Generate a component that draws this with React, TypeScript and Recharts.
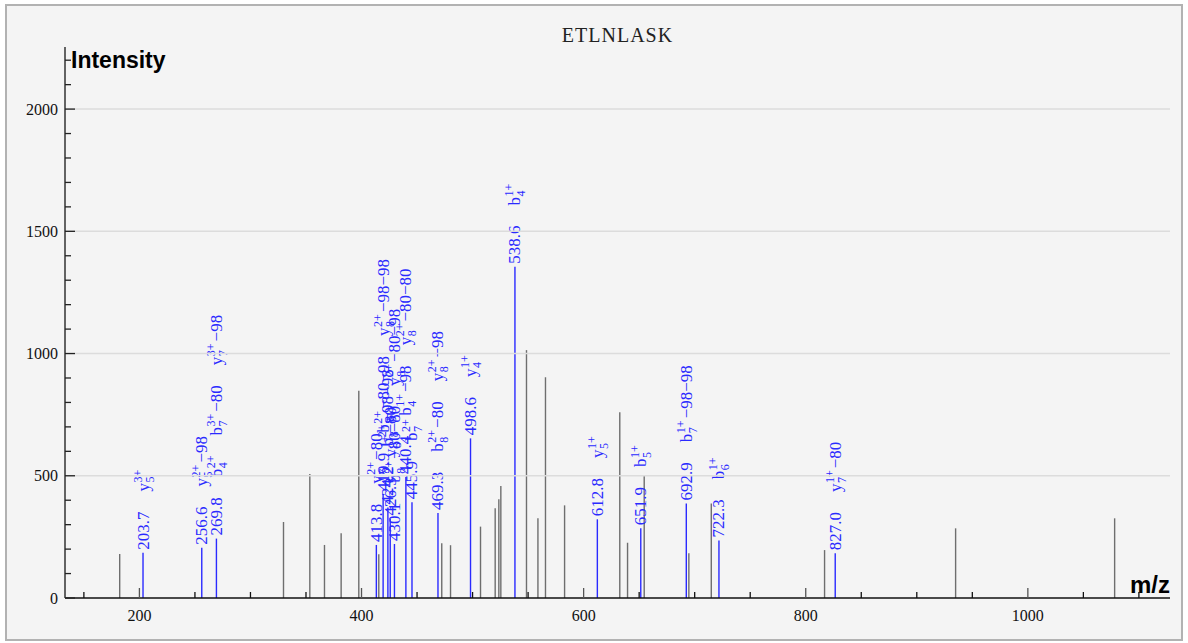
import React from 'react';
import { ComposedChart, Bar, XAxis, YAxis, ReferenceLine } from 'recharts';

const TITLE = 'ETLNLASK';
const X_LABEL = 'm/z';
const Y_LABEL = 'Intensity';

// unannotated peaks (grey)
const grayMz = [182.7, 330.2, 353.9, 367.1, 382.1, 398.0, 416.0, 472.7, 480.6, 507.6, 520.8, 524.1, 525.9, 549.0, 559.3, 566.1, 583.3, 633.0, 640.0, 655.0, 695.2, 715.4, 817.4, 935.4, 1078.6];
const grayIntensity = [180, 311, 507, 217, 265, 848, 179, 224, 216, 292, 367, 404, 458, 1014, 326, 903, 379, 760, 226, 503, 183, 387, 196, 285, 326];

// annotated peaks (blue)
const annMz = [203.7, 256.6, 269.8, 413.8, 419.9, 424.2, 426.3, 430.1, 440.4, 445.9, 469.3, 498.6, 538.6, 612.8, 651.9, 692.9, 722.3, 827.0];
const annIntensity = [185, 206, 243, 217, 425, 370, 325, 221, 495, 392, 348, 653, 1355, 322, 285, 387, 235, 183];
const annText = ['203.7', '256.6', '269.8', '413.8', '419.9', '424.2', '426.3', '430.1', '440.4', '445.9', '469.3', '498.6', '538.6', '612.8', '651.9', '692.9', '722.3', '827.0'];
// ion | index | charge | loss
const annIons: string[][] = [
  ['y|5|3+|'],
  ['y|5|2+|−98'],
  ['b|4|2+|', 'b|7|3+|−80', 'y|7|3+|−98'],
  ['y|7|2+|−80'],
  ['b|8|2+|−80−98', 'y|8|2+|−98−98'],
  ['b|8|2+|−98−98'],
  ['y|8|1+|−80'],
  ['b|8|2+|−80−80', 'y|8|2+|−80−98'],
  ['b|4|1+|−98', 'y|8|2+|−80−80'],
  ['b|7|2+|'],
  ['b|8|2+|−80', 'y|8|2+|−98'],
  ['y|4|1+|'],
  ['b|4|1+|'],
  ['y|5|1+|'],
  ['b|5|1+|'],
  ['b|7|1+|−98−98'],
  ['b|6|1+|'],
  ['y|7|1+|−80'],
];

const xTicks = [150, 200, 250, 300, 350, 400, 450, 500, 550, 600, 650, 700, 750, 800, 850, 900, 950, 1000, 1050, 1100];
const xLabelTicks = [200, 400, 600, 800, 1000];
const yTicks = [0, 100, 200, 300, 400, 500, 600, 700, 800, 900, 1000, 1100, 1200, 1300, 1400, 1500, 1600, 1700, 1800, 1900, 2000, 2100, 2200];
const yLabelTicks = [0, 500, 1000, 1500, 2000];
const gridValues = [500, 1000, 1500, 2000];
const xDomain = [133, 1128];
const yDomain = [0, 2254];

const SERIF = '"Liberation Serif", "Times New Roman", serif';
const SANS = '"Liberation Sans", Arial, sans-serif';
const BLUE = '#2a2aff';
const GRAY = '#6e6e6e';

const peaks = [
  ...grayMz.map((mz, i) => ({ mz, intensity: grayIntensity[i], ann: -1 })),
  ...annMz.map((mz, i) => ({ mz, intensity: annIntensity[i], ann: i })),
];

const SCRIPT_SIZE = 12;
const charW = (s: string) => {
  let w = 0;
  for (const c of s) w += c === '+' ? 0.564 * SCRIPT_SIZE : 0.5 * SCRIPT_SIZE;
  return w;
};

function PeakLabel({ cx, top, idx }: { cx: number; top: number; idx: number }) {
  const parts: React.ReactNode[] = [];
  parts.push(<tspan key="num">{annText[idx]}</tspan>);
  let pendDx = 0;
  let pendDy = 0;
  annIons[idx].forEach((ion, k) => {
    const [letter, sub, sup, loss] = ion.split('|');
    parts.push(
      <tspan key={`l${k}`} dx={pendDx + 20} dy={pendDy}>
        {letter}
      </tspan>
    );
    pendDx = 0;
    pendDy = 0;
    const supW = charW(sup);
    const subW = charW(sub);
    parts.push(
      <tspan key={`p${k}`} fontSize={SCRIPT_SIZE} dx={0.5} dy={-7}>
        {sup}
      </tspan>
    );
    parts.push(
      <tspan key={`s${k}`} fontSize={SCRIPT_SIZE} dx={-supW} dy={12}>
        {sub}
      </tspan>
    );
    if (loss) {
      parts.push(
        <tspan key={`x${k}`} dx={supW - subW + 2} dy={-5}>
          {loss}
        </tspan>
      );
    } else {
      pendDx = supW - subW;
      pendDy = -5;
    }
  });
  return (
    <text
      transform={`translate(${cx + 5.5},${top - 3}) rotate(-90)`}
      fontFamily={SERIF}
      fontSize={17}
      fill={BLUE}
    >
      {parts}
    </text>
  );
}

function PeakShape(props: any) {
  const { x, y, width, height } = props;
  const p = props.payload ?? props;
  const cx = x + width / 2;
  const isAnn = p.ann >= 0;
  return (
    <g>
      <line x1={cx} x2={cx} y1={y} y2={y + height} stroke={isAnn ? BLUE : GRAY} strokeWidth={1.4} />
      {isAnn && <PeakLabel cx={cx} top={y} idx={p.ann} />}
    </g>
  );
}

function XTick(props: any) {
  const { x, y, payload } = props;
  const v = payload.value;
  const major = xLabelTicks.includes(v);
  return (
    <g>
      <line x1={x} x2={x} y1={y} y2={y - (major ? 10 : 6)} stroke={major ? '#555' : '#111'} strokeWidth={1.3} />
      {major && (
        <text x={x} y={y + 23} textAnchor="middle" fontFamily={SERIF} fontSize={16} fill="#111">
          {v}
        </text>
      )}
    </g>
  );
}

function YTick(props: any) {
  const { x, y, payload } = props;
  const v = payload.value;
  const major = yLabelTicks.includes(v);
  return (
    <g>
      <line x1={x} x2={x + (major ? 10 : 6)} y1={y} y2={y} stroke="#222" strokeWidth={1.3} />
      {major && (
        <text x={x - 7} y={y + 5.5} textAnchor="end" fontFamily={SERIF} fontSize={16} fill="#111">
          {v}
        </text>
      )}
    </g>
  );
}

export default function App() {
  return (
    <div style={{ position: 'absolute', left: 0, top: 0, width: 1188, height: 643 }}>
      <div
        style={{
          position: 'absolute',
          left: 5,
          top: 4,
          width: 1178,
          height: 637,
          boxSizing: 'border-box',
          border: '2px solid #b2b2b2',
          background: '#f4f4f4',
        }}
      >
        <ComposedChart
          width={1174}
          height={633}
          data={peaks}
          margin={{ top: 41, right: 11, bottom: 0, left: 0 }}
          barSize={1}
        >
          {gridValues.map((g) => (
            <ReferenceLine key={g} y={g} stroke="#dcdcdc" strokeWidth={1.5} />
          ))}
          <XAxis
            dataKey="mz"
            type="number"
            domain={xDomain}
            ticks={xTicks}
            interval={0}
            allowDataOverflow
            height={41}
            tickSize={0}
            tickMargin={0}
            tickLine={false}
            tick={<XTick />}
            axisLine={{ stroke: '#111', strokeWidth: 1.5 }}
          />
          <YAxis
            type="number"
            domain={yDomain}
            ticks={yTicks}
            interval={0}
            allowDataOverflow
            width={58}
            tickSize={0}
            tickMargin={0}
            tickLine={false}
            tick={<YTick />}
            axisLine={{ stroke: '#333', strokeWidth: 1.5 }}
          />
          <Bar dataKey="intensity" isAnimationActive={false} shape={<PeakShape />} />
        </ComposedChart>
      </div>
      <svg
        width={1188}
        height={643}
        style={{ position: 'absolute', left: 0, top: 0, pointerEvents: 'none' }}
      >
        <text x={617.5} y={41.5} textAnchor="middle" fontFamily={SERIF} fontSize={20} letterSpacing={1} fill="#222">
          {TITLE}
        </text>
        <text x={71} y={68} fontFamily={SANS} fontWeight="bold" fontSize={23} fill="#000">
          {Y_LABEL}
        </text>
        <text x={1170} y={593} textAnchor="end" fontFamily={SANS} fontWeight="bold" fontSize={24} fill="#000">
          {X_LABEL}
        </text>
      </svg>
    </div>
  );
}
